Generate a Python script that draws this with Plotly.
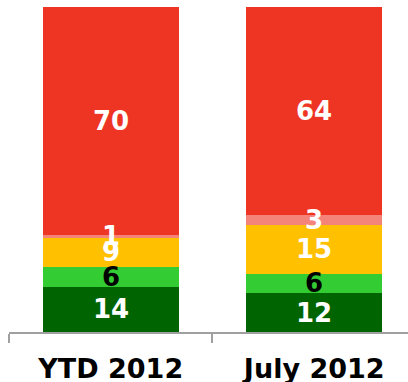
import plotly.graph_objects as go

categories = ["YTD 2012", "July 2012"]
dark_green = [14, 12]
light_green = [6, 6]
yellow = [9, 15]
salmon = [1, 3]
red = [70, 64]

series = [
    (dark_green, "#006400", "white"),
    (light_green, "#33CC33", "black"),
    (yellow, "#FFC000", "white"),
    (salmon, "#F4847A", "white"),
    (red, "#EE3524", "white"),
]

fig = go.Figure()
base = [0] * len(categories)
annotations = []
for vals, color, tcolor in series:
    fig.add_trace(go.Bar(
        x=categories, y=vals, marker=dict(color=color, line=dict(width=0)),
        width=0.67, showlegend=False, hoverinfo="skip",
    ))
    for i, (c, v) in enumerate(zip(categories, vals)):
        annotations.append(dict(
            x=c, y=base[i] + v / 2, xref="x", yref="y", text=str(v),
            showarrow=False, yanchor="middle", xanchor="center",
            font=dict(family="DejaVu Sans", size=26, color=tcolor, weight="bold"),
        ))
        base[i] += v

fig.update_layout(
    barmode="stack",
    width=408, height=382,
    margin=dict(l=9, r=0, t=7, b=50),
    paper_bgcolor="white", plot_bgcolor="white",
    annotations=annotations,
    xaxis=dict(
        range=[-0.5, 1.461], showline=True, linecolor="#A0A0A0", linewidth=2,
        ticks="outside", tickson="boundaries", ticklen=9, tickcolor="#A0A0A0", tickwidth=2,
        ticklabelstandoff=12, automargin=False,
        tickfont=dict(family="DejaVu Sans", size=27, color="black", weight="bold"),
        showgrid=False, zeroline=False,
    ),
    yaxis=dict(range=[0, 100], visible=False, showgrid=False, zeroline=False, automargin=False),
)

fig.write_html("out.html")
